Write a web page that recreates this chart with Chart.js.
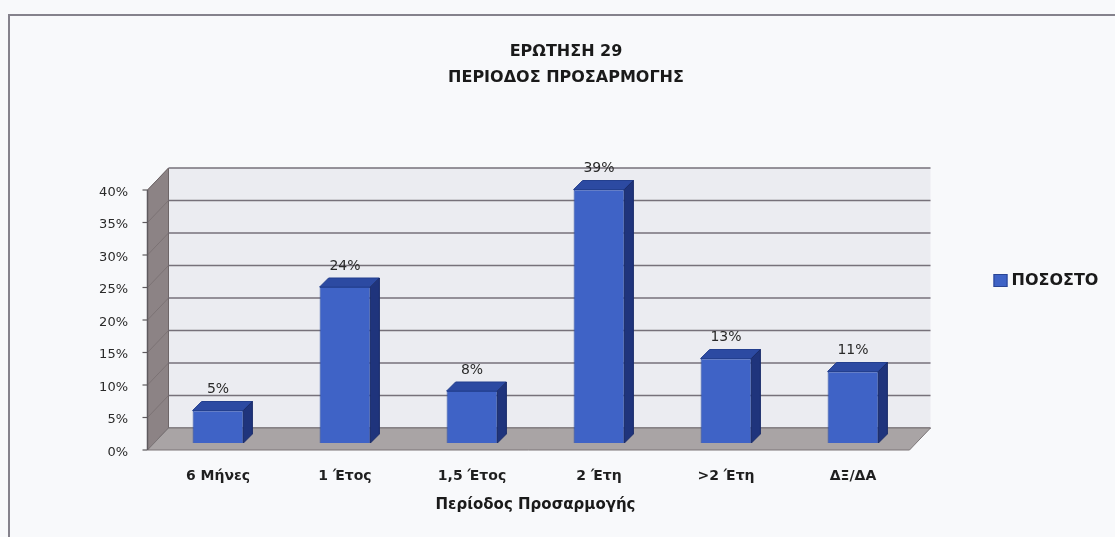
<!DOCTYPE html>
<html>
<head>
<meta charset="utf-8">
<script src="https://cdn.jsdelivr.net/npm/chart.js@4.4.1/dist/chart.umd.min.js"></script>
<style>
  html, body { margin: 0; padding: 0; background: #f8f9fb; }
  #wrap { position: relative; width: 1115px; height: 537px; }
  canvas { display: block; }
</style>
</head>
<body>
<div id="wrap"><canvas id="c" width="1115" height="537"></canvas></div>
<script>
// ---- data ----
const titleLines = ['ΕΡΩΤΗΣΗ 29', 'ΠΕΡΙΟΔΟΣ ΠΡΟΣΑΡΜΟΓΗΣ'];
const categories = ['6 Μήνες', '1 Έτος', '1,5 Έτος', '2 Έτη', '>2 Έτη', 'ΔΞ/ΔΑ'];
const seriesName = 'ΠΟΣΟΣΤΟ';
const percentValues = [5, 24, 8, 39, 13, 11];
const yTickValues = [0, 5, 10, 15, 20, 25, 30, 35, 40];
const xAxisTitle = 'Περίοδος Προσαρμογής';

// ---- style ----
const FONT = 'DejaVu Sans';
const BAR_FRONT = '#3f63c6';
const BAR_TOP = '#2c4aa2';
const BAR_SIDE = '#1f347c';
const FRONT = { dx: -7, dy: 7 };
const BACK = { dx: 14, dy: -15 };
const BAR_DEPTH = 9;

const wallsPlugin = {
  id: 'walls3d',
  beforeDraw(chart) {
    const ctx = chart.ctx;
    ctx.save();
    ctx.strokeStyle = '#85828c';
    ctx.lineWidth = 2;
    ctx.beginPath();
    ctx.moveTo(9, chart.height);
    ctx.lineTo(9, 15);
    ctx.lineTo(chart.width, 15);
    ctx.stroke();
    ctx.restore();
  },
  beforeDatasetsDraw(chart) {
    const { ctx, scales } = chart;
    const xs = scales.x, ys = scales.y;
    const L = xs.left, R = xs.right;
    const y0 = ys.getPixelForValue(yTickValues[0]);
    const yT = ys.getPixelForValue(yTickValues[yTickValues.length - 1]);
    const poly = (pts, fill, stroke, lw) => {
      ctx.beginPath();
      ctx.moveTo(pts[0][0], pts[0][1]);
      for (let i = 1; i < pts.length; i++) ctx.lineTo(pts[i][0], pts[i][1]);
      ctx.closePath();
      if (fill) { ctx.fillStyle = fill; ctx.fill(); }
      if (stroke) { ctx.strokeStyle = stroke; ctx.lineWidth = lw || 1; ctx.stroke(); }
    };
    ctx.save();
    // back wall
    poly([[L + BACK.dx, yT + BACK.dy], [R + BACK.dx, yT + BACK.dy], [R + BACK.dx, y0 + BACK.dy], [L + BACK.dx, y0 + BACK.dy]], '#ebecf1', null);
    // side wall
    poly([[L + FRONT.dx, y0 + FRONT.dy], [L + FRONT.dx, yT + FRONT.dy], [L + BACK.dx, yT + BACK.dy], [L + BACK.dx, y0 + BACK.dy]], '#8c8385', '#6d6567', 1);
    // gridlines
    yTickValues.forEach(v => {
      const py = ys.getPixelForValue(v);
      ctx.strokeStyle = '#76717a';
      ctx.lineWidth = 1.6;
      ctx.beginPath();
      ctx.moveTo(L + BACK.dx, py + BACK.dy);
      ctx.lineTo(R + BACK.dx, py + BACK.dy);
      ctx.stroke();
      ctx.strokeStyle = 'rgba(110,100,102,0.55)';
      ctx.lineWidth = 1;
      ctx.beginPath();
      ctx.moveTo(L + FRONT.dx, py + FRONT.dy);
      ctx.lineTo(L + BACK.dx, py + BACK.dy);
      ctx.stroke();
      // tick marks
      ctx.strokeStyle = '#5e5a5e';
      ctx.lineWidth = 1.2;
      ctx.beginPath();
      ctx.moveTo(L + FRONT.dx - 5, py + FRONT.dy);
      ctx.lineTo(L + FRONT.dx, py + FRONT.dy);
      ctx.stroke();
    });
    // floor
    poly([[L + FRONT.dx, y0 + FRONT.dy], [R + FRONT.dx, y0 + FRONT.dy], [R + BACK.dx, y0 + BACK.dy], [L + BACK.dx, y0 + BACK.dy]], '#a9a4a5', '#7a7476', 1);
    // axis line
    ctx.strokeStyle = '#5e5a5e';
    ctx.lineWidth = 1.5;
    ctx.beginPath();
    ctx.moveTo(L + FRONT.dx, yT + FRONT.dy);
    ctx.lineTo(L + FRONT.dx, y0 + FRONT.dy);
    ctx.stroke();
    ctx.restore();
  },
  afterDatasetsDraw(chart) {
    const ctx = chart.ctx;
    const meta = chart.getDatasetMeta(0);
    const ds = chart.data.datasets[0];
    ctx.save();
    meta.data.forEach((bar, i) => {
      const p = bar.getProps(['x', 'y', 'base', 'width'], true);
      const l = p.x - p.width / 2, r = p.x + p.width / 2;
      const d = BAR_DEPTH;
      // top
      ctx.beginPath();
      ctx.moveTo(l, p.y); ctx.lineTo(r, p.y); ctx.lineTo(r + d, p.y - d); ctx.lineTo(l + d, p.y - d); ctx.closePath();
      ctx.fillStyle = BAR_TOP; ctx.fill();
      ctx.strokeStyle = '#233f8e'; ctx.lineWidth = 1; ctx.stroke();
      // side
      ctx.beginPath();
      ctx.moveTo(r, p.y); ctx.lineTo(r + d, p.y - d); ctx.lineTo(r + d, p.base - d); ctx.lineTo(r, p.base); ctx.closePath();
      ctx.fillStyle = BAR_SIDE; ctx.fill();
      ctx.strokeStyle = '#1a2c6a'; ctx.stroke();
      // label
      ctx.fillStyle = '#2a2a2a';
      ctx.font = '14px "' + FONT + '"';
      ctx.textAlign = 'center';
      ctx.textBaseline = 'middle';
      ctx.fillText(ds.data[i] + '%', p.x, p.y - 21);
    });
    ctx.restore();
  },
  afterDraw(chart) {
    const ctx = chart.ctx;
    const ds = chart.data.datasets[0];
    const lx = chart.scales.x.right + 77;
    const ly = 281;
    ctx.save();
    ctx.fillStyle = BAR_FRONT;
    ctx.fillRect(lx, ly - 7, 14, 13);
    ctx.strokeStyle = '#2a4594';
    ctx.lineWidth = 1;
    ctx.strokeRect(lx + 0.5, ly - 6.5, 13, 12);
    ctx.fillStyle = '#1a1a1a';
    ctx.font = 'bold 16px "' + FONT + '"';
    ctx.textAlign = 'left';
    ctx.textBaseline = 'middle';
    ctx.fillText(ds.label, lx + 18, ly);
    ctx.restore();
  }
};

new Chart(document.getElementById('c'), {
  type: 'bar',
  data: {
    labels: categories,
    datasets: [{
      label: seriesName,
      data: percentValues,
      backgroundColor: BAR_FRONT,
      borderColor: '#2b4aa0',
      borderWidth: 1,
      barPercentage: 0.4,
      categoryPercentage: 1.0
    }]
  },
  options: {
    responsive: false,
    devicePixelRatio: 1,
    animation: false,
    layout: { padding: { left: 19, right: 2, top: 0, bottom: 23 } },
    plugins: {
      legend: { display: false },
      tooltip: { enabled: false },
      title: {
        display: true,
        text: titleLines,
        color: '#1a1a1a',
        font: { family: FONT, weight: 'bold', size: 16, lineHeight: 26 / 16 },
        padding: { top: 39, bottom: 92 }
      }
    },
    scales: {
      x: {
        grid: { display: false, drawTicks: false },
        border: { display: false },
        ticks: { color: '#1f1f1f', font: { family: FONT, weight: 'bold', size: 14, lineHeight: 1.2 }, padding: 24.5, maxRotation: 0, autoSkip: false },
        title: { display: true, text: xAxisTitle, color: '#1a1a1a', font: { family: FONT, weight: 'bold', size: 15, lineHeight: 1.2 }, padding: 0 },
        afterFit(s) { s.height = 71; }
      },
      y: {
        min: 0, max: 40,
        grid: { display: false, drawTicks: false },
        border: { display: false },
        ticks: {
          stepSize: 5,
          color: '#2a2a2a',
          font: { family: FONT, size: 13 },
          padding: 26.5,
          labelOffset: 9.5,
          callback: v => v + '%'
        },
        afterFit(s) { s.width = 135.5; }
      },
      yR: {
        type: 'linear',
        position: 'right',
        display: true,
        grid: { display: false, drawTicks: false },
        border: { display: false },
        ticks: { display: false },
        afterFit(s) { s.width = 196.5; }
      }
    }
  },
  plugins: [wallsPlugin]
});
</script>
</body>
</html>
